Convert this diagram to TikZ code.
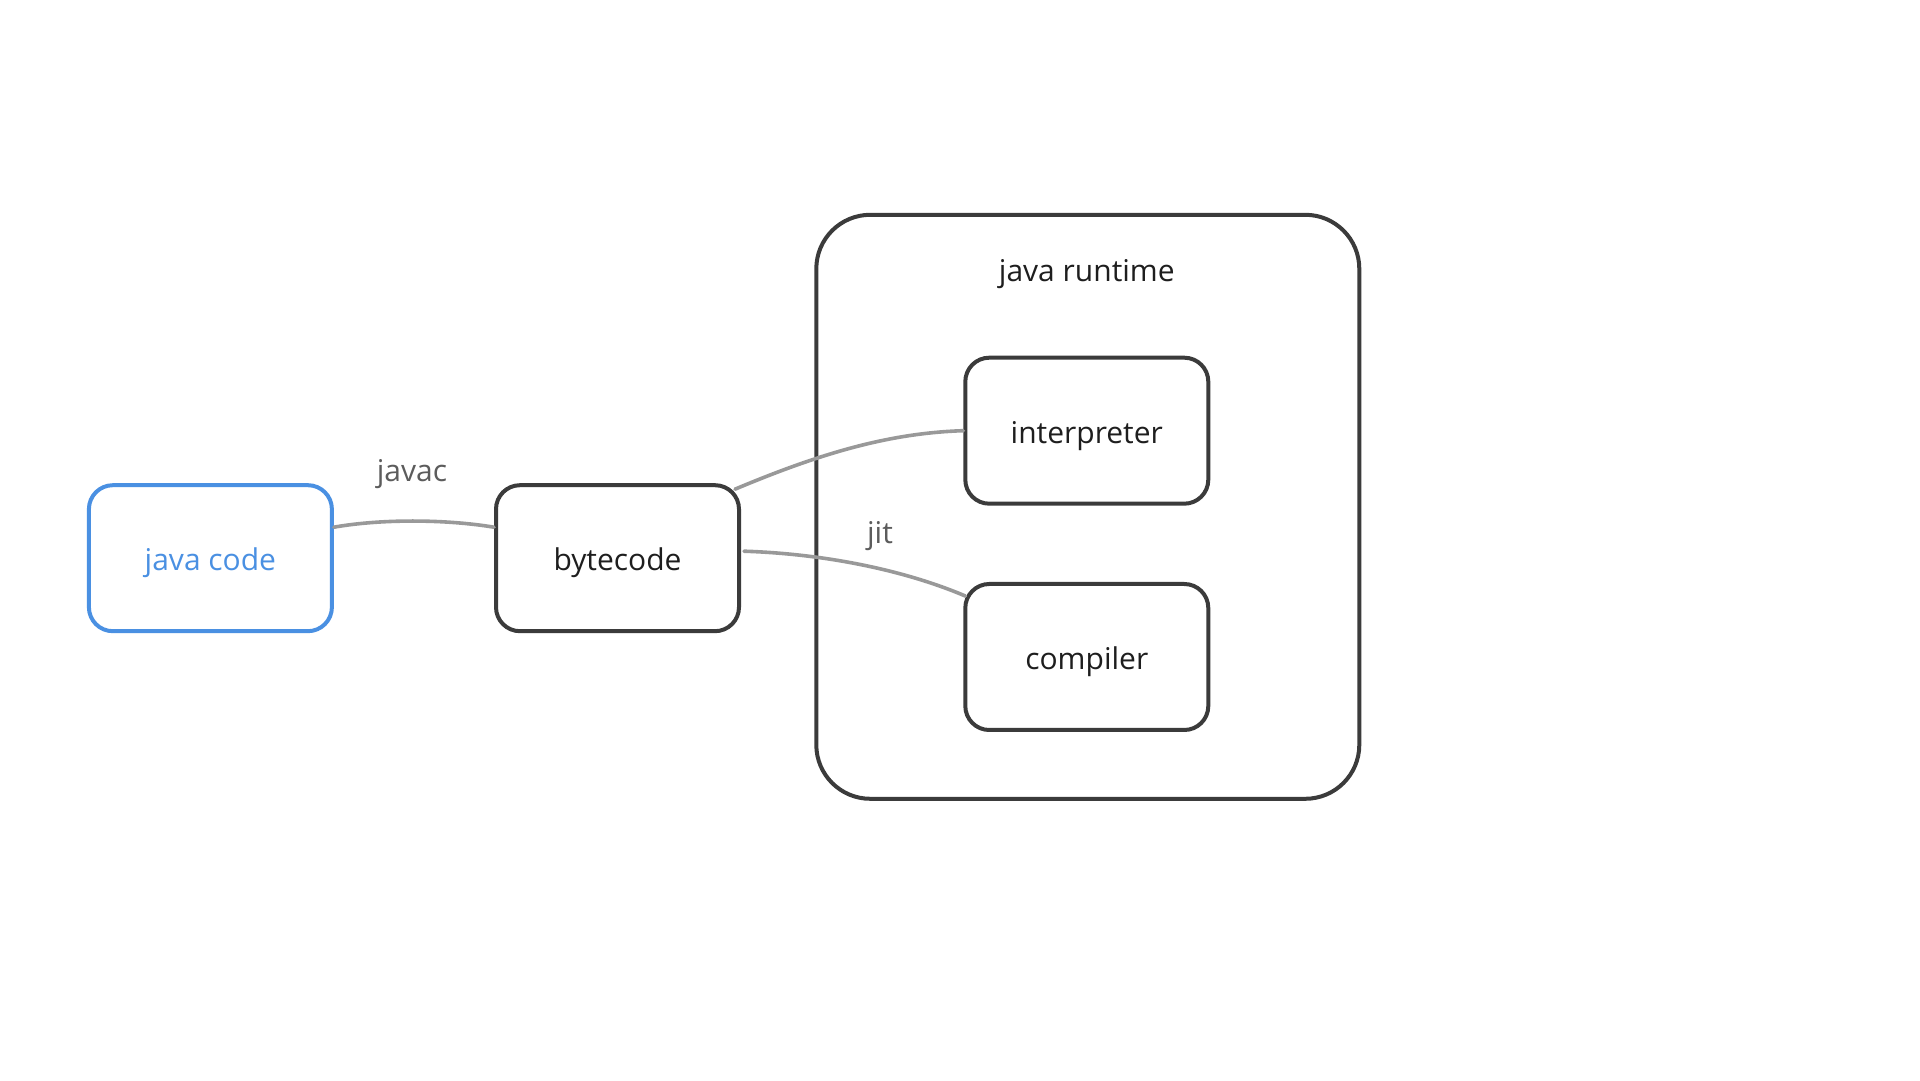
\documentclass[tikz,border=0pt]{standalone}
\usepackage{fontspec}
\setmainfont{Open Sans}
\definecolor{boxline}{HTML}{3B3B3B}
\definecolor{blueline}{HTML}{4A90E2}
\definecolor{edgegray}{HTML}{999999}
\definecolor{labelgray}{HTML}{5C5C5C}
\definecolor{textdark}{HTML}{1E1E1E}
\tikzset{
  x=1pt, y=1pt,
  boxnode/.style={draw=boxline, line width=4pt, rounded corners=24pt,
    minimum width=243pt, minimum height=146pt, inner sep=0pt,
    text height=25.6pt, text depth=0pt,
    text=textdark, font=\fontsize{30}{36}\selectfont},
  bluenode/.style={boxnode, draw=blueline, text=blueline},
  groupbox/.style={draw=boxline, line width=4pt, rounded corners=54pt,
    minimum width=543pt, minimum height=584pt, inner sep=0pt},
  grouplabel/.style={text=textdark, font=\fontsize{30}{36}\selectfont},
  edgelabel/.style={text=labelgray, font=\fontsize{30}{36}\selectfont},
  edge/.style={draw=edgegray, line width=3.6pt, line cap=round}
}
\begin{document}
\begin{tikzpicture}
\useasboundingbox (0,0) rectangle (1920,1080);
\node[groupbox] (rt) at (1087.8,573.2) {};
\node[grouplabel] (rtlabel) at (1086.8,806) {java runtime};
\node[bluenode] (jc) at (210.4,521.8) {java code};
\node[boxnode] (bc) at (617.5,521.8) {bytecode};
\node[boxnode] (ip) at (1086.8,649.3) {interpreter};
\node[boxnode] (cp) at (1086.8,423) {compiler};
\node[edgelabel] (javac) at (412,606) {javac};
\node[edgelabel] (jit) at (880,544) {jit};
\coordinate (e1s) at ([yshift=31pt]jc.east);
\coordinate (e1e) at ([yshift=31pt]bc.west);
\draw[edge] (e1s) .. controls (380,561) and (444.6,561) .. (e1e);
\coordinate (e2s) at ([xshift=-6pt,yshift=-6pt]bc.north east);
\draw[edge] (e2s) .. controls (820,626.5) and (889,647) .. (ip.west);
\coordinate (e3s) at ([xshift=3pt,yshift=7pt]bc.east);
\coordinate (e3e) at ([xshift=2pt,yshift=-14pt]cp.north west);
\draw[edge] (e3s) .. controls (830,526) and (909,508) .. (e3e);
\end{tikzpicture}
\end{document}
